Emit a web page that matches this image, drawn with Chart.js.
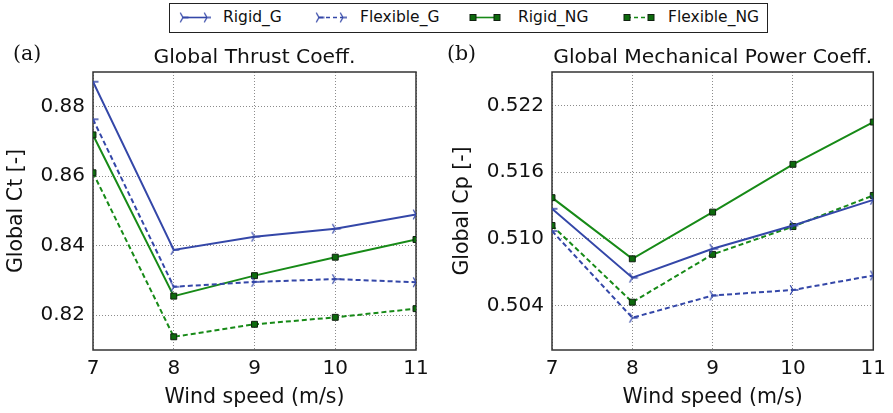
<!DOCTYPE html>
<html>
<head>
<meta charset="utf-8">
<script src="https://cdn.jsdelivr.net/npm/chart.js@4.4.1/dist/chart.umd.min.js"></script>
<style>
  html, body { margin: 0; padding: 0; background: #fff; }
  #wrap { position: relative; width: 893px; height: 413px; overflow: hidden; font-family: 'DejaVu Sans', sans-serif; }
  canvas.panel { position: absolute; top: 0; }
  #legend { position: absolute; left: 169px; top: 3px; width: 599px; height: 30px; box-sizing: border-box;
            border: 1.5px solid #222; background: #fff; z-index: 2; }
  #legend .item { position: absolute; top: 0; height: 27px; line-height: 27px; font-size: 15.5px; color: #111; white-space: nowrap; }
  #legend canvas { position: absolute; top: 0; }
</style>
</head>
<body>
<div id="wrap">
  <div id="legend"></div>
  <canvas id="ctChart" class="panel" width="446" height="413" style="left:0px"></canvas>
  <canvas id="cpChart" class="panel" width="447" height="413" style="left:446px"></canvas>
</div>
<script>
const windSpeed = [7, 8, 9, 10, 11];
const seriesNames = ['Rigid_G', 'Flexible_G', 'Rigid_NG', 'Flexible_NG'];

// global thrust coefficient
const ctRigidG     = [0.8872, 0.8388, 0.8426, 0.8449, 0.8490];
const ctFlexibleG  = [0.8764, 0.8282, 0.8296, 0.8304, 0.8295];
const ctRigidNG    = [0.8719, 0.8255, 0.8314, 0.8367, 0.8418];
const ctFlexibleNG = [0.8610, 0.8138, 0.8174, 0.8194, 0.8219];

// global mechanical power coefficient
const cpRigidG     = [0.5127, 0.5065, 0.5091, 0.5112, 0.5135];
const cpFlexibleG  = [0.5107, 0.5029, 0.5049, 0.5054, 0.5067];
const cpRigidNG    = [0.5137, 0.5082, 0.5124, 0.5167, 0.5205];
const cpFlexibleNG = [0.5112, 0.5043, 0.5086, 0.5111, 0.5139];

const xTicks  = [7, 8, 9, 10, 11];
const ctTicks = [0.82, 0.84, 0.86, 0.88];
const cpTicks = [0.504, 0.510, 0.516, 0.522];

const BLUE = '#3447a8';
const GREEN = '#178a17';
const FONT = "'DejaVu Sans', sans-serif";

function triMarker(color) {
    const c = document.createElement('canvas');
    c.width = 14; c.height = 14;
    const g = c.getContext('2d');
    g.strokeStyle = color;
    g.lineWidth = 1.3;
    g.beginPath();
    [0, 120, 240].forEach(a => {
        const t = a * Math.PI / 180;
        g.moveTo(7, 7);
        g.lineTo(7 + 5.5 * Math.cos(t), 7 - 5.5 * Math.sin(t));
    });
    g.stroke();
    return c;
}
const triBlue = triMarker(BLUE);

const seriesStyle = [
    { color: BLUE,  dash: [],     marker: 'tri' },
    { color: BLUE,  dash: [5, 3], marker: 'tri' },
    { color: GREEN, dash: [],     marker: 'square' },
    { color: GREEN, dash: [5, 3], marker: 'square' }
];

function makeDatasets(series) {
    return series.map((vals, i) => {
        const st = seriesStyle[i];
        return {
            label: seriesNames[i],
            data: windSpeed.map((x, j) => ({ x: x, y: vals[j] })),
            borderColor: st.color,
            borderWidth: 2,
            borderDash: st.dash,
            pointStyle: st.marker === 'tri' ? triBlue : 'rect',
            pointRadius: st.marker === 'tri' ? 5 : 4.2,
            pointBackgroundColor: '#0d6a0d',
            pointBorderColor: '#102010',
            pointBorderWidth: 1,
            tension: 0,
            fill: false
        };
    });
}

// frame + title + panel letter
const panelDeco = {
    id: 'panelDeco',
    beforeDatasetsDraw(chart) {
        const a = chart.chartArea, ctx = chart.ctx;
        ctx.save();
        ctx.strokeStyle = '#333';
        ctx.lineWidth = 1.5;
        ctx.strokeRect(a.left, a.top, a.right - a.left, a.bottom - a.top);
        ctx.restore();
    },
    afterDraw(chart, args, opts) {
        const a = chart.chartArea, ctx = chart.ctx;
        ctx.save();
        ctx.fillStyle = '#111';
        ctx.font = '20.3px ' + FONT;
        ctx.textAlign = 'center';
        ctx.textBaseline = 'alphabetic';
        ctx.fillText(opts.title, (a.left + a.right) / 2, 63);
        ctx.font = "20.5px 'DejaVu Serif', serif";
        ctx.textAlign = 'left';
        ctx.textBaseline = 'middle';
        ctx.fillText(opts.letter, opts.letterX, 55);
        ctx.restore();
    }
};

function makeChart(id, series, yMin, yMax, yTicks, digits, yTitle, title, letter, letterX, yWidth, padRight) {
    const gridOpts = { color: '#8c8c8c', lineWidth: 1, drawTicks: false };
    return new Chart(document.getElementById(id).getContext('2d'), {
        type: 'line',
        data: { datasets: makeDatasets(series) },
        plugins: [panelDeco],
        options: {
            responsive: false,
            animation: false,
            layout: { padding: { top: 72, right: padRight, left: 0, bottom: 0 } },
            plugins: {
                legend: { display: false },
                tooltip: { enabled: false },
                panelDeco: { title: title, letter: letter, letterX: letterX }
            },
            scales: {
                x: {
                    type: 'linear', min: 7, max: 11,
                    afterBuildTicks: s => { s.ticks = xTicks.map(v => ({ value: v })); },
                    afterFit: s => { s.height = 63; },
                    grid: gridOpts,
                    border: { display: false, dash: [1, 2] },
                    ticks: { padding: 7, color: '#111', font: { family: FONT, size: 20 }, callback: v => String(v) },
                    title: { display: true, text: 'Wind speed (m/s)', color: '#111',
                             font: { family: FONT, size: 20.5 }, padding: { top: 0, bottom: 3 } }
                },
                y: {
                    min: yMin, max: yMax,
                    afterBuildTicks: s => { s.ticks = yTicks.map(v => ({ value: v })); },
                    afterFit: s => { s.width = yWidth; },
                    grid: gridOpts,
                    border: { display: false, dash: [1, 2] },
                    ticks: { padding: 8, color: '#111', font: { family: FONT, size: 20 }, callback: v => v.toFixed(digits) },
                    title: { display: true, text: yTitle, color: '#111',
                             font: { family: FONT, size: 20.5 }, padding: { top: 4, bottom: 0 } }
                }
            }
        }
    });
}

makeChart('ctChart', [ctRigidG, ctFlexibleG, ctRigidNG, ctFlexibleNG], 0.81, 0.89, ctTicks, 2,
          'Global Ct [-]', 'Global Thrust Coeff.', '(a)', 13, 93, 30);
makeChart('cpChart', [cpRigidG, cpFlexibleG, cpRigidNG, cpFlexibleNG], 0.500, 0.525, cpTicks, 3,
          'Global Cp [-]', 'Global Mechanical Power Coeff.', '(b)', 1, 106, 18);

// legend box
const legendSampleX = [9, 145, 299, 453];
const legendTextX = [53, 190, 348, 498];
const legend = document.getElementById('legend');
seriesNames.forEach((name, i) => {
    const st = seriesStyle[i];
    const c = document.createElement('canvas');
    c.width = 32; c.height = 27;
    c.style.left = legendSampleX[i] + 'px';
    const g = c.getContext('2d');
    g.strokeStyle = st.color;
    g.lineWidth = 1.6;
    g.setLineDash(st.dash.length ? [4, 3] : []);
    g.beginPath(); g.moveTo(4, 13.5); g.lineTo(28, 13.5); g.stroke();
    g.setLineDash([]);
    [4, 28].forEach(px => {
        if (st.marker === 'tri') {
            g.drawImage(triBlue, px - 7, 13.5 - 7);
        } else {
            g.fillStyle = '#0d6a0d';
            g.strokeStyle = '#102010';
            g.lineWidth = 1;
            g.fillRect(px - 3, 10.5, 6, 6);
            g.strokeRect(px - 3, 10.5, 6, 6);
        }
    });
    legend.appendChild(c);
    const t = document.createElement('div');
    t.className = 'item';
    t.style.left = legendTextX[i] + 'px';
    t.textContent = name;
    legend.appendChild(t);
});
</script>
</body>
</html>
